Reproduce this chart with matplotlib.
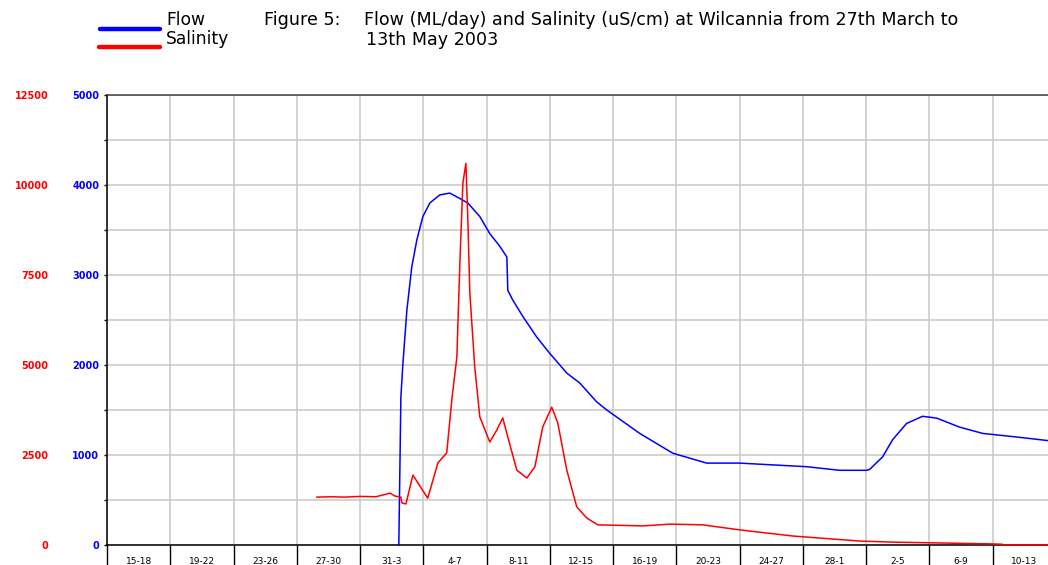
import matplotlib
matplotlib.use("Agg")
import matplotlib.pyplot as plt
from matplotlib.lines import Line2D
from matplotlib.ticker import MultipleLocator, FixedLocator, NullFormatter

# ---- data (x = days since 15 March 2003) ----
period_labels = ["15-18", "19-22", "23-26", "27-30", "31-3", "4-7", "8-11", "12-15",
                 "16-19", "20-23", "24-27", "28-1", "2-5", "6-9", "10-13"]

flow_days = [18.45, 18.58, 18.71, 18.96, 19.27, 19.59, 19.97, 20.41, 21.04, 21.67,
             22.31, 22.81, 23.57, 24.20, 24.83, 25.28, 25.34, 25.66, 26.29, 27.17,
             27.99, 29.07, 29.89, 30.96, 31.60, 33.68, 35.77, 37.91, 40.00, 42.09,
             44.23, 46.32, 48.03, 48.22, 49.04, 49.67, 50.55, 51.56, 52.45, 53.90,
             55.36, 57.50, 60.00]
flow_values = [0, 1640, 2020, 2610, 3090, 3390, 3650, 3800, 3890, 3910,
               3850, 3800, 3650, 3460, 3320, 3200, 2830, 2720, 2540, 2310,
               2130, 1910, 1800, 1590, 1500, 1240, 1020, 910, 910, 890,
               870, 830, 830, 840, 980, 1170, 1350, 1430, 1410, 1310,
               1240, 1200, 1150]

sal_days = [13.27, 14.2, 15.0, 16.0, 17.0, 17.9, 18.2, 18.58, 18.64, 18.9, 19.34,
            20.28, 20.92, 21.48, 21.80, 22.12, 22.31, 22.50, 22.69, 22.81, 22.94,
            23.25, 23.57, 24.20, 24.64, 25.02, 25.34, 25.91, 26.54, 27.05, 27.55,
            28.12, 28.50, 29.07, 29.70, 30.33, 31.03, 33.87, 35.58, 37.66, 40.00,
            43.35, 47.58, 49.67, 55.99, 56.62, 56.65, 60.00]
sal_values = [1330, 1340, 1330, 1350, 1340, 1440, 1360, 1330, 1170, 1140, 1940,
              1300, 2280, 2560, 4030, 5220, 7830, 10050, 10600, 9100, 7000,
              4950, 3560, 2860, 3190, 3530, 3000, 2080, 1860, 2170, 3280,
              3830, 3390, 2080, 1060, 750, 560, 530, 580, 560, 420,
              250, 110, 80, 30, 20, 0, 0]

W, H = 1048, 565
fig = plt.figure(figsize=(W / 100, H / 100), dpi=100)
plt.rcParams['font.family'] = ['DejaVu Sans']

# axes placement in pixels
left_px, right_px, top_px, bot_px = 107, 1056, 95, 545
ax = fig.add_axes([left_px / W, (H - bot_px) / H, (right_px - left_px) / W, (bot_px - top_px) / H])
ax2 = ax.twinx()

grid_c = "#c8c8c8"
ax.set_xlim(0, 60)
ax.set_ylim(0, 5000)
ax2.set_ylim(0, 12500)

ax.plot(flow_days, flow_values, color="#0000ff", lw=1.1, zorder=5, clip_on=False)
ax2.plot(sal_days, sal_values, color="#ff0000", lw=1.1, zorder=6, clip_on=False)

# grid
ax.yaxis.set_major_locator(MultipleLocator(1000))
ax.yaxis.set_minor_locator(MultipleLocator(500))
ax.grid(True, which="both", axis="y", color=grid_c, lw=1.1, zorder=0)
ax.xaxis.set_major_locator(MultipleLocator(4))
ax.grid(True, which="major", axis="x", color=grid_c, lw=1.1, zorder=0)
ax.set_axisbelow(True)

# x tick boxes and labels
ax.xaxis.set_minor_locator(FixedLocator([2 + 4 * i for i in range(len(period_labels))]))
ax.xaxis.set_major_formatter(NullFormatter())
ax.xaxis.set_minor_formatter(plt.FixedFormatter(period_labels))
ax.tick_params(axis="x", which="major", direction="out", length=16, width=1.0, color="black")
ax.tick_params(axis="x", which="minor", length=0, pad=9, labelsize=6.5)

# left flow axis (blue)
ax.tick_params(axis="y", which="major", direction="out", length=2.5, width=1.0,
               labelsize=7, labelcolor="#0000ff", pad=3)
ax.tick_params(axis="y", which="minor", direction="out", length=2.5, width=1.0)
for lab in ax.get_yticklabels():
    lab.set_fontweight("bold")

# salinity axis (red) labels on left
ax2.yaxis.set_ticks_position("left")
ax2.yaxis.set_label_position("left")
ax2.yaxis.set_major_locator(MultipleLocator(2500))
ax2.tick_params(axis="y", which="both", length=0, labelsize=7, labelcolor="#ff0000", pad=42,
                labelleft=True, labelright=False)
for lab in ax2.get_yticklabels():
    lab.set_fontweight("bold")
for s in ax2.spines.values():
    s.set_visible(False)

for s in ["left", "bottom"]:
    ax.spines[s].set_color("black")
    ax.spines[s].set_linewidth(1.1)
ax.spines["top"].set_color("#404040")
ax.spines["top"].set_linewidth(1.1)
ax.spines["right"].set_visible(False)

# legend (manual, figure pixel coords)
def fx(px):
    return px / W

def fy(py):
    return 1 - py / H

fig.add_artist(Line2D([fx(100), fx(160)], [fy(29), fy(29)], color="#0000ff", lw=3.2,
                      solid_capstyle="round"))
fig.add_artist(Line2D([fx(99), fx(160)], [fy(47), fy(47)], color="#ff0000", lw=3.2,
                      solid_capstyle="round"))
fs = 12.3
fig.text(fx(166), fy(20), "Flow", fontsize=fs, va="center", ha="left")
fig.text(fx(166), fy(39), "Salinity", fontsize=fs, va="center", ha="left")

# title
fts = 12.6
fig.text(fx(264), fy(20), "Figure 5:", fontsize=fts, va="center", ha="left")
fig.text(fx(364), fy(20), "Flow (ML/day) and Salinity (uS/cm) at Wilcannia from 27th March to",
         fontsize=fts, va="center", ha="left")
fig.text(fx(366), fy(40), "13th May 2003", fontsize=fts, va="center", ha="left")

fig.savefig("out.png", dpi=100)
